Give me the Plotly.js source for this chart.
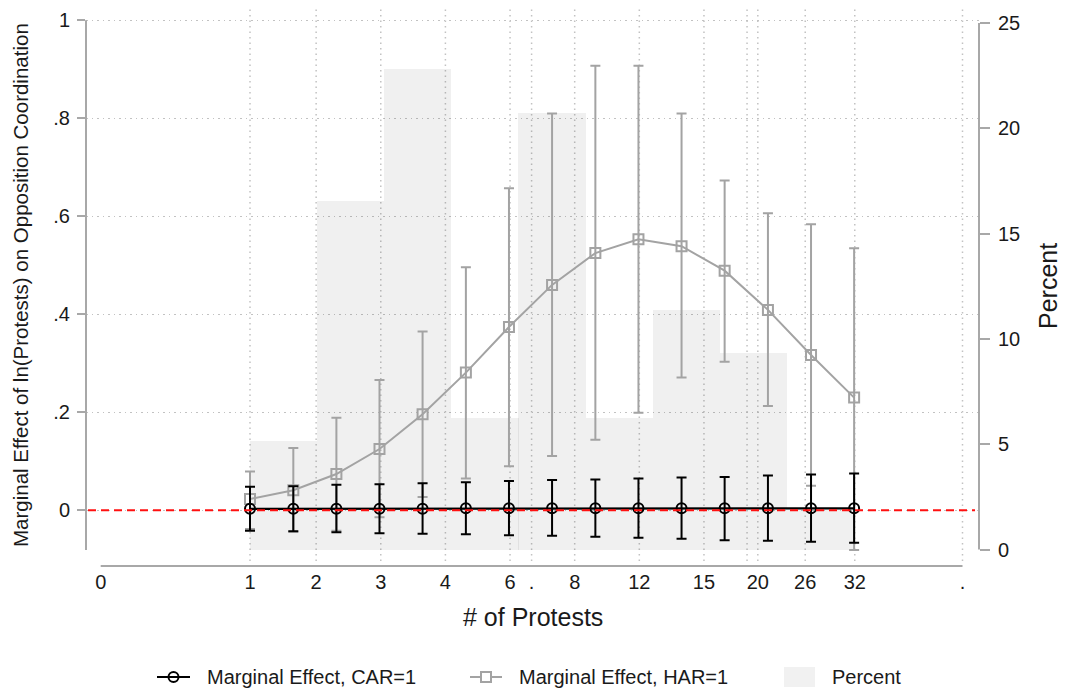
<!DOCTYPE html>
<html>
<head>
<meta charset="utf-8">
<script src="https://cdn.plot.ly/plotly-3.0.1.min.js"></script>
<style>html,body{margin:0;padding:0;background:#fff}#chart{width:1066px;height:689px}</style>
</head>
<body>
<div id="chart"></div>
<script>
// x scale: ln(# of protests + 1)
const evalX   = [0.693, 0.894, 1.094, 1.294, 1.494, 1.695, 1.895, 2.095, 2.296, 2.496, 2.696, 2.896, 3.097, 3.297, 3.497];
const carEst  = [0.003, 0.003, 0.003, 0.003, 0.003, 0.004, 0.004, 0.004, 0.004, 0.004, 0.004, 0.004, 0.004, 0.004, 0.004];
const carLo   = [-0.042, -0.043, -0.045, -0.047, -0.048, -0.049, -0.051, -0.052, -0.054, -0.056, -0.058, -0.061, -0.062, -0.064, -0.066];
const carHi   = [0.048, 0.049, 0.052, 0.053, 0.055, 0.057, 0.060, 0.062, 0.063, 0.065, 0.067, 0.068, 0.071, 0.073, 0.075];
const harEst  = [0.023, 0.041, 0.074, 0.125, 0.196, 0.281, 0.374, 0.460, 0.525, 0.553, 0.539, 0.489, 0.409, 0.317, 0.230];
const harLo   = [-0.038, -0.044, -0.042, -0.014, 0.027, 0.065, 0.090, 0.111, 0.144, 0.199, 0.271, 0.303, 0.213, 0.050, -0.081];
const harHi   = [0.079, 0.127, 0.189, 0.266, 0.365, 0.496, 0.657, 0.810, 0.907, 0.907, 0.810, 0.673, 0.606, 0.584, 0.535];
const binStart = [0.693, 1.005, 1.316, 1.628, 1.939, 2.251, 2.563, 2.874, 3.186];
const binWidth = 0.3115;
const pct      = [5.15, 16.55, 22.8, 6.23, 20.71, 6.23, 11.37, 9.32, 1.97];
const xTickVals = [0, 0.693, 1.0, 1.3, 1.6, 1.9, 2.0, 2.2, 2.5, 2.8, 3.0, 3.05, 3.27, 3.5, 4.0];
const xTickText = ['0', '1', '2', '3', '4', '6', '.', '8', '12', '15', '', '20', '26', '32', '.'];
const yTickVals = [0, 0.2, 0.4, 0.6, 0.8, 1];
const yTickText = ['0', '.2', '.4', '.6', '.8', '1'];
const pTickVals = [0, 5, 10, 15, 20, 25];
const seriesNames = ['Marginal Effect, CAR=1', 'Marginal Effect, HAR=1', 'Percent'];

const FONT = '"Liberation Sans", Arial, sans-serif';
const AX = '#a8a8a8';
const GRID = '#c2c2c2';
const HARC = '#a3a3a3';
const BARC = 'rgba(0,0,0,0.06)';

const up = (hi, est) => hi.map((h, i) => h - est[i]);
const dn = (lo, est) => lo.map((l, i) => est[i] - l);

const traces = [
  {
    type: 'bar', x: binStart, y: pct, width: binWidth, offset: 0, yaxis: 'y',
    marker: {color: BARC, line: {width: 0}},
    name: seriesNames[2], hoverinfo: 'skip'
  },
  {
    type: 'scatter', mode: 'lines+markers', x: evalX, y: harEst, yaxis: 'y2',
    line: {color: HARC, width: 2},
    marker: {symbol: 'square-open', size: 10, color: HARC, line: {width: 2, color: HARC}},
    error_y: {type: 'data', symmetric: false, array: up(harHi, harEst), arrayminus: dn(harLo, harEst),
              color: HARC, thickness: 2, width: 5},
    name: seriesNames[1]
  },
  {
    type: 'scatter', mode: 'lines+markers', x: evalX, y: carEst, yaxis: 'y2',
    line: {color: '#000', width: 2.2},
    marker: {symbol: 'circle-open', size: 10, color: '#000', line: {width: 2, color: '#000'}},
    error_y: {type: 'data', symmetric: false, array: up(carHi, carEst), arrayminus: dn(carLo, carEst),
              color: '#000', thickness: 2, width: 5},
    name: seriesNames[0]
  }
];

const L = 86, R = 979, T = 8, B = 566, W = R - L, H = B - T;
const px2x = p => (p - L) / W;
const py2y = p => (B - p) / H;

const shapes = [];
xTickVals.slice(1).forEach(v => shapes.push({
  type: 'line', xref: 'x', yref: 'paper', x0: v, x1: v, y0: py2y(561), y1: 1,
  line: {color: GRID, width: 1.5, dash: '1.5px,4px'}, layer: 'below'
}));
const minLo = Math.min(...harLo, ...carLo);
shapes.push({type: 'line', xref: 'paper', yref: 'y2', x0: 0, x1: 0, y0: minLo, y1: 1, line: {color: AX, width: 2}});
shapes.push({type: 'line', xref: 'paper', yref: 'y', x0: 1, x1: 1, y0: 0, y1: 25, line: {color: AX, width: 2}});
shapes.push({type: 'line', xref: 'x', yref: 'paper', x0: 0, x1: 4, y0: 0, y1: 0, line: {color: AX, width: 2}});
shapes.push({type: 'line', xref: 'paper', yref: 'y2', x0: px2x(88), x1: px2x(975), y0: 0, y1: 0,
  line: {color: '#ff1010', width: 2, dash: '8px,5px'}, layer: 'above'});

// custom legend (below the plot)
const LY = 677;
const pline = (x0, x1, y, color) => ({type: 'line', xref: 'paper', yref: 'paper',
  x0: px2x(x0), x1: px2x(x1), y0: py2y(y), y1: py2y(y), line: {color: color, width: 2}});
shapes.push(pline(157, 190, LY, '#000'));
shapes.push({type: 'circle', xref: 'paper', yref: 'paper', x0: px2x(168.5), x1: px2x(178.5),
  y0: py2y(LY + 5), y1: py2y(LY - 5), line: {color: '#000', width: 2}, fillcolor: 'rgba(0,0,0,0)'});
shapes.push(pline(470, 502, LY, HARC));
shapes.push({type: 'rect', xref: 'paper', yref: 'paper', x0: px2x(481), x1: px2x(491),
  y0: py2y(LY + 5), y1: py2y(LY - 5), line: {color: HARC, width: 2}, fillcolor: '#fff'});
shapes.push({type: 'rect', xref: 'paper', yref: 'paper', x0: px2x(784), x1: px2x(815),
  y0: py2y(LY + 10), y1: py2y(LY - 10), line: {width: 0}, fillcolor: '#f1f1f1'});

const legendText = (txt, x) => ({text: txt, xref: 'paper', yref: 'paper', x: px2x(x), y: py2y(LY),
  xanchor: 'left', yanchor: 'middle', showarrow: false, font: {size: 20}});

const layout = {
  width: 1066, height: 689,
  margin: {l: L, r: 1066 - R, t: T, b: 689 - B, pad: 0},
  paper_bgcolor: '#fff', plot_bgcolor: '#fff',
  font: {family: FONT, size: 20, color: '#1a1a1a'},
  barmode: 'overlay', bargap: 0,
  showlegend: false,
  xaxis: {
    range: [-0.0682, 4.0766], tickmode: 'array', tickvals: xTickVals, ticktext: xTickText,
    showgrid: false, zeroline: false, showline: false, ticks: '', ticklabelstandoff: 2,
    tickfont: {size: 20}, automargin: false
  },
  yaxis: {
    side: 'right', range: [-0.7835, 25.712], tickmode: 'array', tickvals: pTickVals,
    ticks: 'outside', ticklen: 10, tickwidth: 2, tickcolor: AX, automargin: false,
    showgrid: false, zeroline: false, showline: false, ticklabelstandoff: 4, tickfont: {size: 20}
  },
  yaxis2: {
    overlaying: 'y', side: 'left', anchor: 'x', range: [-0.1137, 1.0251],
    tickmode: 'array', tickvals: yTickVals, ticktext: yTickText, automargin: false,
    ticks: 'outside', ticklen: 8, tickwidth: 2, tickcolor: AX,
    showgrid: true, gridcolor: GRID, gridwidth: 1.5, griddash: '1.5px,4px',
    zeroline: false, showline: false, ticklabelstandoff: 3, tickfont: {size: 20}
  },
  shapes: shapes,
  annotations: [
    {text: 'Marginal Effect of ln(Protests) on Opposition Coordination', xref: 'paper', yref: 'paper',
     x: px2x(20), y: py2y(285), textangle: -90, showarrow: false, xanchor: 'center', yanchor: 'middle',
     font: {size: 20.5}},
    {text: 'Percent', xref: 'paper', yref: 'paper', x: px2x(1048), y: py2y(286), textangle: -90,
     showarrow: false, xanchor: 'center', yanchor: 'middle', font: {size: 25}},
    {text: '# of Protests', xref: 'paper', yref: 'paper', x: 0.5, y: py2y(617), showarrow: false,
     xanchor: 'center', yanchor: 'middle', font: {size: 25}},
    legendText(seriesNames[0], 205),
    legendText(seriesNames[1], 517),
    legendText(seriesNames[2], 830)
  ]
};

Plotly.newPlot('chart', traces, layout, {displayModeBar: false, staticPlot: true});
</script>
</body>
</html>
